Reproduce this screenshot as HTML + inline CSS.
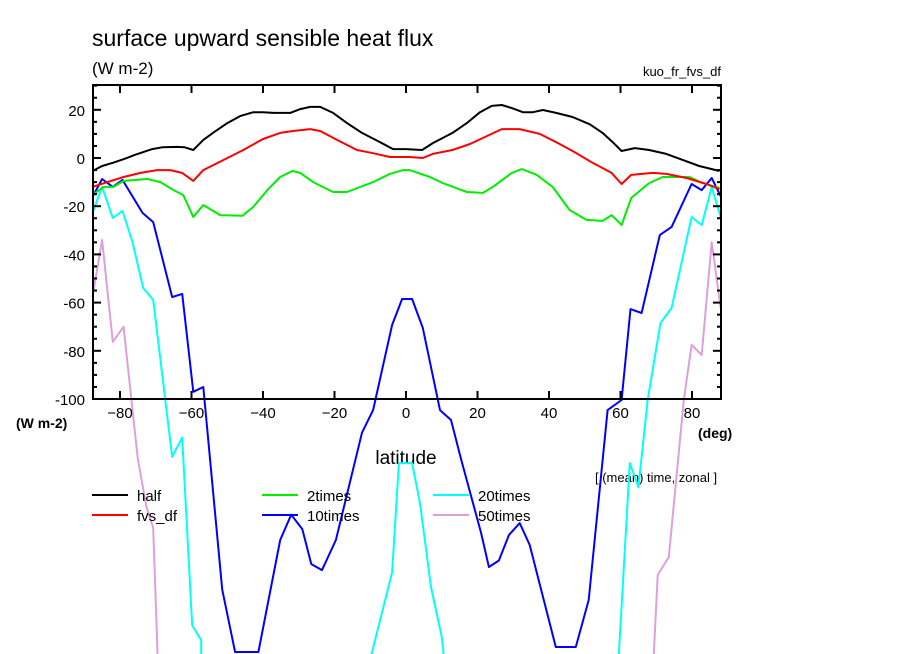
<!DOCTYPE html>
<html><head><meta charset="utf-8"><style>
html,body{margin:0;padding:0;background:#fff;}
svg{display:block;font-family:"Liberation Sans",sans-serif;}
</style></head><body>
<svg id="chart" width="904" height="654" viewBox="0 0 904 654" xmlns="http://www.w3.org/2000/svg">
<rect width="904" height="654" fill="#fff"/>
<text x="92" y="46" font-size="23" fill="#000">surface upward sensible heat flux</text>
<text x="92" y="74" font-size="17" fill="#000">(W m-2)</text>
<text x="721" y="76" font-size="13" text-anchor="end" fill="#000">kuo_fr_fvs_df</text>
<text x="16" y="428" font-size="14" font-weight="bold" fill="#000">(W m-2)</text>
<text x="698" y="438" font-size="14" font-weight="bold" fill="#000">(deg)</text>
<text x="406" y="464" font-size="19" text-anchor="middle" fill="#000">latitude</text>
<text x="595" y="482" font-size="13" fill="#000">[ (mean) time, zonal ]</text>
<g id="series"></g>
<g id="axes"></g>
<g id="legend"></g>
</svg>
<script>
const yTicks=[20,0,-20,-40,-60,-80,-100];
const xTicks=[-80,-60,-40,-20,0,20,40,60,80];
const seriesNames=["half","fvs_df","2times","10times","20times","50times"];
const seriesColors=["#000000","#ff0000","#00ee00","#0000ff","#00ffff","#dda0dd"];
const halfLat=[-87.7,-85,-82,-79,-76,-71,-68,-64,-62,-59.5,-56.7,-54,-50,-46.4,-42.7,-40,-37,-32.4,-29.6,-26.8,-24,-20.4,-16.5,-12.3,-7.3,-3.6,0,4.5,7.5,13,17,20.7,24,26.8,29.6,32.7,35.5,38.3,42,46.6,51.4,55,57.8,60.3,64,68,72.8,77.4,82,87.7];
const halfVal=[-5.4,-3.3,-2,-0.5,1.2,3.7,4.5,4.6,4.5,3.3,7.5,10.4,14.5,17.4,19,19,18.7,18.7,20.3,21.2,21.2,18.7,14.5,10.4,6.6,3.7,3.7,3.3,6.2,10.4,14.5,19,21.6,22,20.7,19,19,19.9,18.7,17,14,10.4,6.6,2.9,4.1,3.3,1.7,-0.8,-3.3,-5.4];
const fvsLat=[-87.7,-83.5,-79,-74.3,-69.6,-66,-62.6,-59.5,-56.7,-51,-45.5,-40,-35.2,-31.6,-26.8,-24,-19.3,-13.7,-9.2,-4.5,1,4.7,7.5,13,17.9,22.6,26.8,31.8,37.4,42,46.6,52.2,57.5,60.3,63,69,72.8,78.5,84,87.7];
const fvsVal=[-12,-10,-7.9,-6.2,-5,-5,-6.2,-9.5,-5,-0.8,3.3,7.9,10.4,11.2,12,11.2,7.5,3.3,2,0.4,0.4,0,1.7,3.3,5.8,9.1,12,12,10,6.6,2.9,-2,-6.2,-10.8,-7,-6.2,-6.6,-8.3,-10.8,-12.9];
const twoLat=[-87.7,-84.6,-81.8,-79,-72.3,-68.7,-65,-62.3,-59.5,-56.7,-52,-45.8,-42.7,-38.8,-35.2,-31.8,-29.6,-26,-20.4,-16.5,-9.2,-4.5,-0.8,1,6.7,10.3,17,21.5,24.3,29.6,32.4,36.6,41,45.8,50.5,55,57.5,60.3,63,68,71.8,79.3,83,87.7];
const twoVal=[-15.4,-12,-12,-9.5,-8.7,-10,-13.3,-15.4,-24.5,-19.5,-23.7,-24,-20.3,-13.3,-7.9,-5.4,-6.2,-10,-14.1,-14.1,-10,-6.6,-5,-5,-7.9,-10.4,-14.1,-14.5,-12,-6.2,-4.6,-7,-12,-21.6,-25.7,-26.1,-23.7,-27.8,-16.6,-10.4,-7.9,-7.9,-10.4,-12.4];
const tenLat=[-87.7,-85,-82,-79.3,-73.7,-70.7,-65.4,-62.6,-59.5,-56.7,-51.4,-47.8,-41.3,-35.2,-32.1,-29,-26.5,-23.5,-19.6,-12.3,-9.2,-3.9,-1.1,1.7,4.7,9.5,12.6,15.4,21,23.2,26,28.8,31.8,34.6,41.9,47.5,51.1,56.4,60.3,62.8,65.9,71,74.3,79.9,82.7,85.5,88];
const tenVal=[-16.2,-8.7,-12,-9.1,-22.8,-26.6,-57.7,-56.4,-97,-95,-179,-205,-205,-158.5,-148,-154,-168.5,-171,-158.5,-114,-104.6,-69.3,-58.5,-58.5,-70.5,-104.6,-108.7,-125,-155.6,-169.7,-167,-156.4,-151.5,-160.6,-202.9,-202.9,-183.4,-104.6,-100.4,-62.7,-64.3,-32,-28.6,-10.8,-13.3,-8.3,-15.8];
const twentyLat=[-87.7,-85,-82,-79.3,-76.5,-73.5,-70.7,-67,-65.4,-62.6,-59.8,-57.3,-57.3,-11.2,-3.9,-2,1.7,3.9,7,10,11.2,59.2,62.6,65,67.6,71.2,74.3,79.9,82.7,85.5,88];
const twentyVal=[-22.8,-12,-24.9,-22,-34.9,-54,-58.9,-104.6,-124,-116,-194,-200,-215,-215,-172,-126.6,-126.6,-143,-178,-198.8,-215,-215,-126.6,-136.5,-100.4,-68.5,-62.2,-24.5,-27.8,-12,-24.5];
const fiftyLat=[-87.7,-85,-82,-79,-76.5,-75,-72.6,-70.7,-69.3,69,70.4,73.5,77.7,79.9,82.7,85.5,88];
const fiftyVal=[-57.7,-34,-76.3,-70,-104.6,-125,-144.8,-153.5,-215,-215,-173,-165.6,-100.4,-77.6,-81.7,-34.9,-62.2];

const NS="http://www.w3.org/2000/svg";
const X0=93,X1=721,Y0=85,Y1=399;
function xs(lat){return 406+lat*3.575;}
function ys(v){return 158-v*2.41;}
function mk(tag,attrs,parent){const e=document.createElementNS(NS,tag);for(const k in attrs)e.setAttribute(k,attrs[k]);parent.appendChild(e);return e;}

const sg=document.getElementById('series');
const lats=[halfLat,fvsLat,twoLat,tenLat,twentyLat,fiftyLat];
const vals=[halfVal,fvsVal,twoVal,tenVal,twentyVal,fiftyVal];
const order=[5,4,3,2,1,0];
order.forEach(i=>{
  const pts=lats[i].map((la,j)=>xs(la).toFixed(1)+","+ys(vals[i][j]).toFixed(1)).join(" ");
  const pl=mk('polyline',{points:pts,fill:"none",stroke:seriesColors[i],"stroke-width":2,"stroke-linejoin":"round"},sg);
  
  
});

const ag=document.getElementById('axes');
const frame=mk('rect',{x:X0,y:Y0,width:X1-X0,height:Y1-Y0,fill:"none",stroke:"#000","stroke-width":2},ag);


for(let v=-100;v<=30;v+=5){
  const y=ys(v);if(y<Y0-0.5)continue;
  const L=(v%20===0)?8:4;
  mk('line',{x1:X0,y1:y,x2:X0+L,y2:y,stroke:"#000","stroke-width":2},ag);
  mk('line',{x1:X1,y1:y,x2:X1-L,y2:y,stroke:"#000","stroke-width":2},ag);
}
yTicks.forEach(v=>{
  const t=mk('text',{x:85,y:ys(v)+6,"font-size":15,"text-anchor":"end",fill:"#000"},ag);
  t.textContent=v;
  
  
});
xTicks.forEach(v=>{
  const x=xs(v);
  mk('line',{x1:x,y1:Y1,x2:x,y2:Y1-8,stroke:"#000","stroke-width":2},ag);
  mk('line',{x1:x,y1:Y0,x2:x,y2:Y0+8,stroke:"#000","stroke-width":2},ag);
  const t=mk('text',{x:x,y:418,"font-size":15,"text-anchor":"middle",fill:"#000"},ag);
  t.textContent=(v<0?"\u2212":"")+Math.abs(v);
  
  
});

const lg=document.getElementById('legend');
const colX=[92,262,433];
seriesNames.forEach((n,i)=>{
  const col=[0,0,1,1,2,2][i],row=i%2;
  const x=colX[col],y=495+row*20;
  const g=mk('g',{},lg);
  
  
  mk('line',{x1:x,y1:y,x2:x+36,y2:y,stroke:seriesColors[i],"stroke-width":2},g);
  const t=mk('text',{x:x+45,y:y+6,"font-size":15,fill:"#000"},g);
  t.textContent=n;
});
</script>
</body></html>
